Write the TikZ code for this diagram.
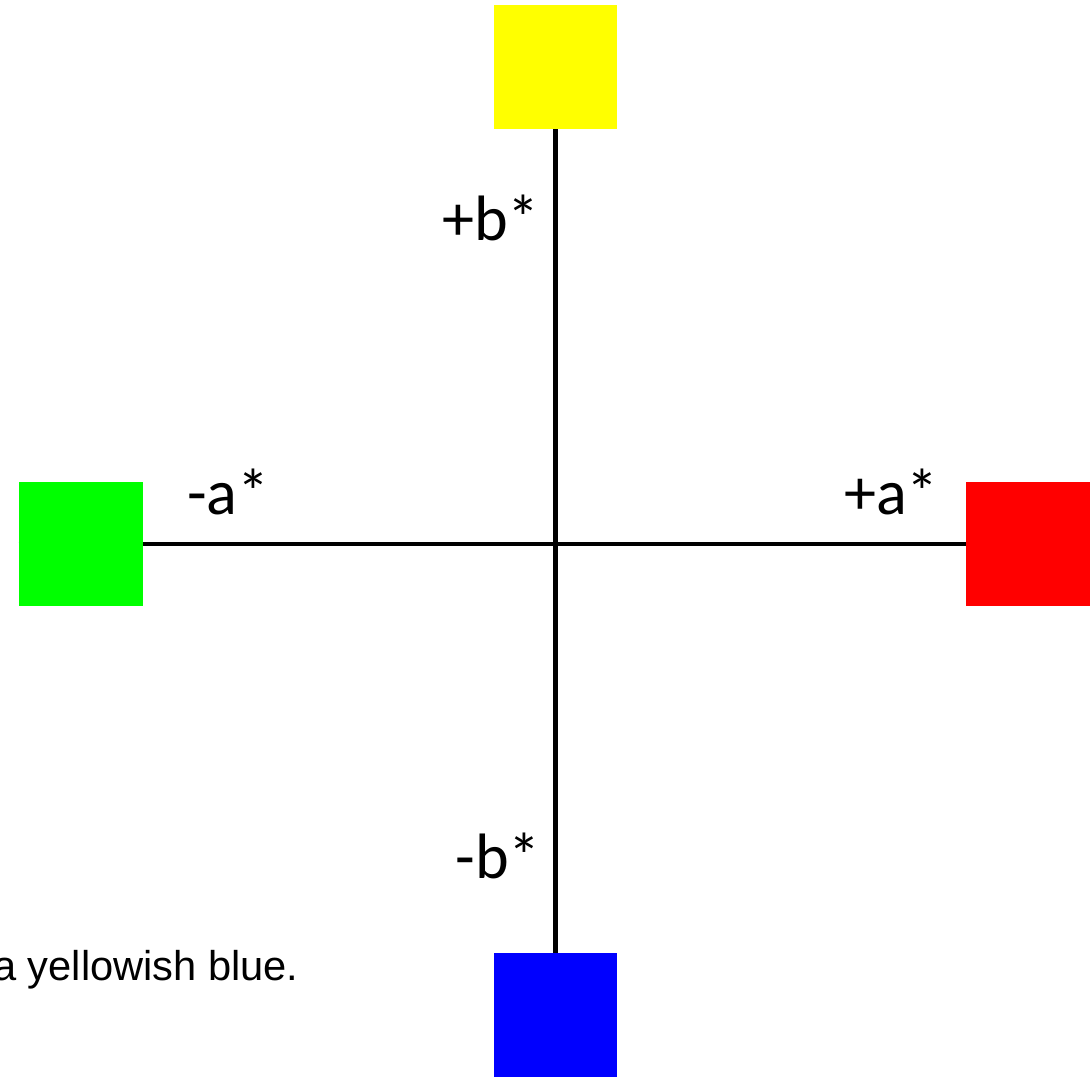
\documentclass[tikz,border=0pt]{standalone}
\usepackage{fontspec}
\setmainfont{Carlito}
\newfontfamily\notefont{Liberation Sans}
\usetikzlibrary{positioning, backgrounds}
\definecolor{labyellow}{RGB}{255,255,0}
\definecolor{labgreen}{RGB}{0,255,0}
\definecolor{labred}{RGB}{255,0,0}
\definecolor{labblue}{RGB}{0,0,255}

\tikzset{
  patch/.style={draw=none, minimum size=2.48cm, inner sep=0pt},
  axis/.style={line width=2.4pt, black},
  axlabel/.style={inner sep=0pt, font=\fontsize{36.5}{40}\selectfont}
}

\begin{document}
\begin{tikzpicture}[x=0.02cm, y=-0.02cm]
    \useasboundingbox (0,0) rectangle (1091,1077);

    % colour patches
    \node[patch, fill=labyellow] (Y) at (555.5,67) {};
    \node[patch, fill=labgreen] (G) at (81,544) {};
    \node[patch, fill=labred] (R) at (1028,544) {};
    \node[patch, fill=labblue] (B) at (555.5,1015) {};

    % axes
    \begin{scope}[on background layer]
      \draw[axis] (G.west) -- (R.east);
      \draw[axis] (Y.south) -- (B.north);
    \end{scope}

    % axis labels
    \node[axlabel, anchor=base east] (bplus) at (540,241) {+b*};
    \node[axlabel, anchor=base west] (aminus) at (187,514) {-a*};
    \node[axlabel, anchor=base east] (aplus) at (939,514) {+a*};
    \node[axlabel, anchor=base east] (bminus) at (541,878) {-b*};

    \node[inner sep=0pt, anchor=base east, font=\notefont\fontsize{23.7}{26}\selectfont] (note) at (299,980) {a yellowish blue.};
\end{tikzpicture}
\end{document}
